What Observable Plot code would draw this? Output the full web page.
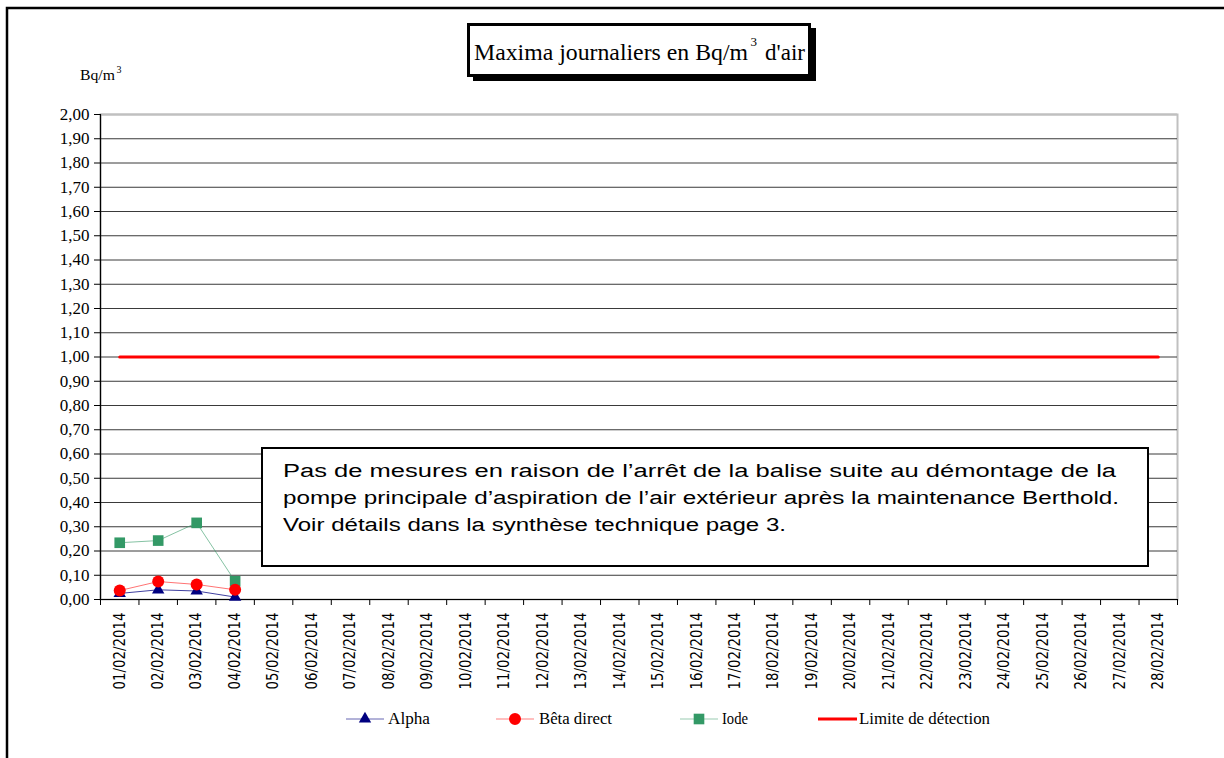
<!DOCTYPE html>
<html>
<head>
<meta charset="utf-8">
<script src="https://cdn.jsdelivr.net/npm/d3@7"></script>
<script src="https://cdn.jsdelivr.net/npm/@observablehq/plot@0.6"></script>
<style>
  html, body { margin: 0; padding: 0; background: #fff; }
  #wrap { position: relative; width: 1224px; height: 758px; overflow: hidden; }
  #wrap svg { position: absolute; left: 0; top: 0; }
</style>
</head>
<body>
<div id="wrap"></div>
<script>
// ---- Data ----
const dateLabels = [
  "01/02/2014","02/02/2014","03/02/2014","04/02/2014","05/02/2014","06/02/2014","07/02/2014",
  "08/02/2014","09/02/2014","10/02/2014","11/02/2014","12/02/2014","13/02/2014","14/02/2014",
  "15/02/2014","16/02/2014","17/02/2014","18/02/2014","19/02/2014","20/02/2014","21/02/2014",
  "22/02/2014","23/02/2014","24/02/2014","25/02/2014","26/02/2014","27/02/2014","28/02/2014"
];
const measuredDates = ["01/02/2014","02/02/2014","03/02/2014","04/02/2014"];
const alpha = [0.025, 0.04, 0.035, 0.01];
const betaDirect = [0.037, 0.074, 0.062, 0.04];
const iode = [0.234, 0.243, 0.316, 0.075];
const limiteDetection = 1.00;
const yTicks = [0,0.1,0.2,0.3,0.4,0.5,0.6,0.7,0.8,0.9,1.0,1.1,1.2,1.3,1.4,1.5,1.6,1.7,1.8,1.9,2.0];
const seriesNames = ["Alpha", "Bêta direct", "Iode", "Limite de détection"];
const titleParts = ["Maxima journaliers en Bq/m", "3", "d'air"];
const unitParts = ["Bq/m", "3"];
const noteLines = [
  "Pas de mesures en raison de l\u2019arrêt de la balise suite au démontage de la",
  "pompe principale d\u2019aspiration de l\u2019air extérieur après la maintenance Berthold.",
  "Voir détails dans la synthèse technique page 3."
];

// ---- Build tables ----
const parse = d3.utcParse("%d/%m/%Y");
const fmt = d3.utcFormat("%d/%m/%Y");
const days = dateLabels.map(parse);
const halfDay = 12 * 3600 * 1000;
const bounds = days.map(d => new Date(+d - halfDay)).concat([new Date(+days[days.length - 1] + halfDay)]);
const rows = measuredDates.map((s, i) => ({date: parse(s), alpha: alpha[i], beta: betaDirect[i], iode: iode[i]}));
const limitRows = days.map(d => ({date: d, v: limiteDetection}));

const C_ALPHA = "#000080", C_BETA = "#ff0000", C_IODE = "#339966", C_LIM = "#ff0000";

const plot = Plot.plot({
  width: 1224, height: 758,
  marginLeft: 100, marginRight: 47, marginTop: 114, marginBottom: 159,
  style: {background: "transparent"},
  x: {type: "utc", domain: [bounds[0], bounds[bounds.length - 1]], axis: null},
  y: {domain: [0, 2], axis: null},
  marks: [
    Plot.frame({stroke: "#c0c0c0", strokeWidth: 2}),
    Plot.ruleY(yTicks.filter(v => v > 0 && v < 2), {stroke: "#3a3a3a", strokeWidth: 1}),
    Plot.ruleY([2], {stroke: "#c0c0c0", strokeWidth: 2}),
    Plot.ruleX([bounds[0]], {stroke: "#000", strokeWidth: 1.2}),
    Plot.ruleY([0], {stroke: "#000", strokeWidth: 1.2}),
    Plot.axisY({ticks: yTicks, tickFormat: () => "", tickSize: 6, label: null, stroke: "#000"}),
    Plot.text(yTicks, {y: d => d, text: v => v.toFixed(2).replace(".", ","), frameAnchor: "left", dx: -11,
      textAnchor: "end", fontSize: 17, fontFamily: "Liberation Serif", fill: "#000"}),
    Plot.axisX({ticks: bounds, tickFormat: () => "", tickSize: 6, label: null}),
    Plot.axisX({ticks: days, tickFormat: d => fmt(d), tickRotate: -90, tickSize: 0, tickPadding: 13,
      fontSize: 15, fontFamily: "DejaVu Sans", label: null, color: "#000"}),
    // series
    Plot.line(rows, {x: "date", y: "alpha", stroke: C_ALPHA, strokeOpacity: 0.75, strokeWidth: 1}),
    Plot.dot(rows, {x: "date", y: "alpha", symbol: "triangle", r: 4.6, fill: C_ALPHA, stroke: "none"}),
    Plot.line(rows, {x: "date", y: "iode", stroke: C_IODE, strokeOpacity: 0.6, strokeWidth: 1}),
    Plot.dot(rows, {x: "date", y: "iode", symbol: "square", r: 6, fill: C_IODE, stroke: "none"}),
    Plot.line(rows, {x: "date", y: "beta", stroke: C_BETA, strokeOpacity: 0.55, strokeWidth: 1}),
    Plot.dot(rows, {x: "date", y: "beta", r: 6, fill: C_BETA, stroke: "none"}),
    Plot.line(limitRows, {x: "date", y: "v", stroke: C_LIM, strokeWidth: 3})
  ]
});
document.getElementById("wrap").appendChild(plot);

// condensed rotated x labels
d3.select(plot).selectAll('g[aria-label="x-axis tick label"] text')
  .attr("textLength", 77).attr("lengthAdjust", "spacingAndGlyphs");

// ---- Overlay: frame, title, unit, note, legend ----
const ov = d3.select("#wrap").append("svg")
  .attr("width", 1224).attr("height", 758)
  .style("pointer-events", "none");

ov.append("path").attr("d", "M7,760V8H1226").attr("fill", "none").attr("stroke", "#000").attr("stroke-width", 2.5);

// title box with shadow
ov.append("rect").attr("x", 473).attr("y", 28).attr("width", 343).attr("height", 53).attr("fill", "#000");
ov.append("rect").attr("x", 468.5).attr("y", 24.5).attr("width", 341).attr("height", 51)
  .attr("fill", "#fff").attr("stroke", "#000").attr("stroke-width", 3);
const T = (x, y, size, len, txt, family) => ov.append("text").attr("x", x).attr("y", y)
  .attr("font-family", family || "Liberation Serif").attr("font-size", size).attr("fill", "#000")
  .attr("textLength", len).attr("lengthAdjust", "spacingAndGlyphs").text(txt);
T(474, 60, 23, 274, titleParts[0]);
T(750.5, 46, 13, 6.5, titleParts[1]);
T(765, 60, 23, 40, titleParts[2]);

// unit label
T(80, 80, 14, 35, unitParts[0]);
T(116.5, 73, 10, 5, unitParts[1]);

// note box
ov.append("rect").attr("x", 262).attr("y", 448).attr("width", 886).attr("height", 118)
  .attr("fill", "#fff").attr("stroke", "#000").attr("stroke-width", 2);
const noteLen = [833, 836, 503];
noteLines.forEach((t, i) => T(283, 477 + i * 27, 18, noteLen[i], t, "Liberation Sans"));

// legend
const ly = 719;
const legend = [
  {name: seriesNames[0], x1: 346, x2: 384, color: C_ALPHA, sym: d3.symbolTriangle, size: 66, lw: 1, op: 0.6, tx: 388, tl: 42},
  {name: seriesNames[1], x1: 496, x2: 534, color: C_BETA, sym: d3.symbolCircle, size: 113, lw: 1, op: 0.5, tx: 539, tl: 73},
  {name: seriesNames[2], x1: 680, x2: 718, color: C_IODE, sym: d3.symbolSquare, size: 113, lw: 1, op: 0.5, tx: 722, tl: 26},
  {name: seriesNames[3], x1: 818, x2: 857, color: C_LIM, sym: null, lw: 3, op: 1, tx: 859, tl: 131}
];
legend.forEach(l => {
  ov.append("line").attr("x1", l.x1).attr("x2", l.x2).attr("y1", ly).attr("y2", ly)
    .attr("stroke", l.color).attr("stroke-width", l.lw).attr("stroke-opacity", l.op);
  if (l.sym) {
    ov.append("path").attr("d", d3.symbol(l.sym, l.size)())
      .attr("transform", `translate(${(l.x1 + l.x2) / 2},${ly})`).attr("fill", l.color);
  }
  T(l.tx, ly + 5, 16, l.tl, l.name);
});
</script>
</body>
</html>
